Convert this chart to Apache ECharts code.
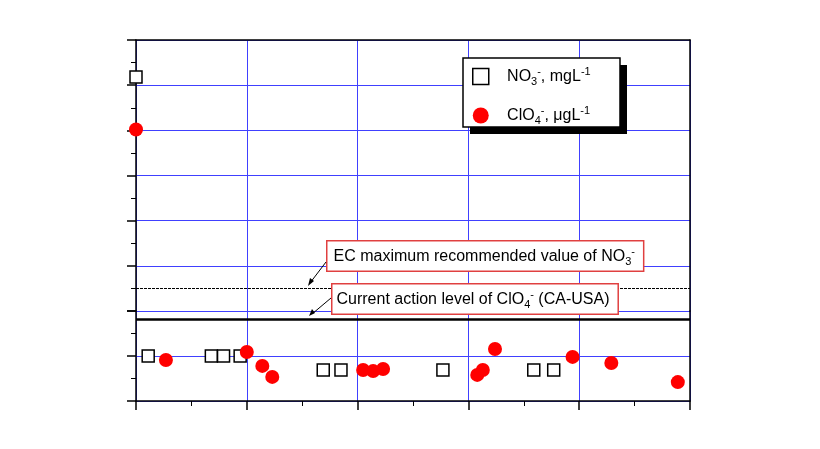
<!DOCTYPE html>
<html>
<head>
<meta charset="utf-8">
<script src="https://cdn.jsdelivr.net/npm/echarts@6/dist/echarts.min.js"></script>
<style>html,body{margin:0;background:#fff}#c{width:820px;height:449px}</style>
</head>
<body>
<div id="c"></div>
<script>
// upper panel (big values)
var no3Upper = [[0, 5.18]];
var clo4Upper = [[0, 4.02]];
// lower panel
var no3Lower = [[0.11, 2.0], [0.68, 2.0], [0.79, 2.0], [0.94, 2.0], [1.69, 1.38], [1.85, 1.38], [2.77, 1.38], [3.59, 1.38], [3.77, 1.38]];
var clo4Lower = [[0.27, 1.82], [1.0, 2.18], [1.14, 1.56], [1.23, 1.07], [2.05, 1.38], [2.14, 1.33], [2.23, 1.42], [3.08, 1.16], [3.13, 1.38], [3.24, 2.31], [3.94, 1.96], [4.29, 1.69], [4.89, 0.84]];
var ecLevel = 0.51;      // EC max recommended NO3-
var actionLevel = 3.64;  // action level ClO4- (lower panel)

var chart = echarts.init(document.getElementById('c'));
var font = 'Liberation Sans, Arial, sans-serif';
var blue = '#4040ff';
var sqStyle = { color: '#fff', borderColor: '#000', borderWidth: 1.5, opacity: 1 };
var dotStyle = { color: '#ff0000', opacity: 1 };
var rich = {
  n: { fontSize: 16, fontFamily: font, color: '#000' },
  sub: { fontSize: 11, fontFamily: font, color: '#000', padding: [10, 0, 0, 0] },
  sup: { fontSize: 11, fontFamily: font, color: '#000', padding: [0, 0, 10, 0] }
};
function xAx(gi, show) {
  return {
    type: 'value', gridIndex: gi, min: 0, max: 5, interval: 1,
    axisLabel: { show: false },
    axisLine: { show: show, lineStyle: { color: '#000', width: 1.5 } },
    axisTick: { show: show, inside: false, length: 9, lineStyle: { color: '#000', width: 1.5 } },
    minorTick: { show: show, splitNumber: 2, length: 5, lineStyle: { color: '#000' } },
    splitLine: { show: true, lineStyle: { color: blue, width: 1 } }
  };
}
function yAx(gi, max, interval) {
  return {
    type: 'value', gridIndex: gi, min: 0, max: max, interval: interval,
    axisLabel: { show: false },
    axisLine: { show: true, onZero: false, lineStyle: { color: '#000', width: 1.5 } },
    axisTick: { show: true, length: 9, lineStyle: { color: '#000', width: 1.5 } },
    minorTick: { show: true, splitNumber: 2, length: 5, lineStyle: { color: '#000' } },
    splitLine: { show: true, lineStyle: { color: blue, width: 1 } }
  };
}
function border(gi, pos) {
  return {
    type: 'value', gridIndex: gi, position: pos, min: 0, max: 1,
    axisLabel: { show: false }, axisTick: { show: false }, splitLine: { show: false },
    axisLine: { show: true, onZero: false, lineStyle: { color: '#000', width: 1.5 } }
  };
}
var option = {
  animation: false,
  backgroundColor: '#fff',
  grid: [
    { left: 136, right: 130, top: 40, height: 271 },
    { left: 136, right: 130, top: 311, height: 90 }
  ],
  xAxis: [xAx(0, false), xAx(1, true), border(0, 'top')],
  yAxis: [yAx(0, 6, 1), yAx(1, 4, 2), border(0, 'right'), border(1, 'right')],
  legend: {
    left: 472, top: 66, orient: 'vertical', itemGap: 18, padding: 0, z: 20,
    itemWidth: 16, itemHeight: 16,
    data: [
      { name: 'NO3', icon: 'rect', itemStyle: sqStyle },
      { name: 'ClO4', icon: 'circle', itemStyle: dotStyle }
    ],
    formatter: function (n) {
      return n === 'NO3' ? '    {n|NO}{sub|3}{sup|-}{n|, mgL}{sup|-1}' : '    {n|ClO}{sub|4}{sup|-}{n|, \u03bcgL}{sup|-1}';
    },
    textStyle: { rich: rich }
  },
  series: [
    { name: 'NO3', type: 'scatter', xAxisIndex: 0, yAxisIndex: 0, data: no3Upper, symbol: 'rect', symbolSize: 12, itemStyle: sqStyle,
      markLine: { silent: true, symbol: 'none', label: { show: false },
        lineStyle: { color: '#000', type: [3, 1], width: 1 }, data: [{ yAxis: ecLevel }] } },
    { name: 'ClO4', type: 'scatter', xAxisIndex: 0, yAxisIndex: 0, data: clo4Upper, symbolSize: 14, itemStyle: dotStyle },
    { name: 'NO3', type: 'scatter', xAxisIndex: 1, yAxisIndex: 1, data: no3Lower, symbol: 'rect', symbolSize: 12, itemStyle: sqStyle,
      markLine: { silent: true, symbol: 'none', label: { show: false },
        lineStyle: { color: '#000', type: 'solid', width: 2.5 }, data: [{ yAxis: actionLevel }] } },
    { name: 'ClO4', type: 'scatter', xAxisIndex: 1, yAxisIndex: 1, data: clo4Lower, symbolSize: 14, itemStyle: dotStyle }
  ],
  graphic: [
    { type: 'rect', z: 9, shape: { x: 470, y: 65, width: 157, height: 69 }, style: { fill: '#000' } },
    { type: 'rect', z: 10, shape: { x: 463, y: 58, width: 157, height: 69 }, style: { fill: '#fff', stroke: '#000', lineWidth: 1.5 } },
    { type: 'text', left: 326, top: 240, z: 10,
      style: { text: '{n|EC maximum recommended value of NO}{sub|3}{sup|-}', rich: rich,
        backgroundColor: '#fff', borderColor: '#e04040', borderWidth: 1.5, padding: [5, 8, 3, 6] } },
    { type: 'text', left: 331, top: 283, z: 10,
      style: { text: '{n|Current action level of ClO}{sub|4}{sup|-}{n| (CA-USA)}', rich: rich,
        backgroundColor: '#fff', borderColor: '#e04040', borderWidth: 1.5, padding: [5, 8, 3, 4] } },
    { type: 'line', z: 10, shape: { x1: 326, y1: 262, x2: 310, y2: 283 }, style: { stroke: '#000', lineWidth: 1 } },
    { type: 'polygon', z: 10, shape: { points: [[308, 286], [310, 278], [314, 281]] }, style: { fill: '#000' } },
    { type: 'line', z: 10, shape: { x1: 331, y1: 298, x2: 312, y2: 314 }, style: { stroke: '#000', lineWidth: 1 } },
    { type: 'polygon', z: 10, shape: { points: [[309, 316], [312, 309], [315, 313]] }, style: { fill: '#000' } }
  ]
};
chart.setOption(option);
</script>
</body>
</html>
